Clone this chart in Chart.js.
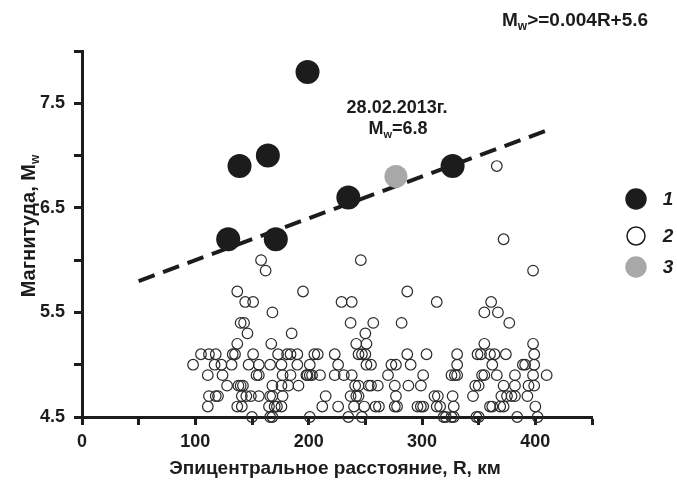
<!DOCTYPE html>
<html>
<head>
<meta charset="utf-8">
<script src="https://cdn.jsdelivr.net/npm/chart.js@4.4.1/dist/chart.umd.min.js"></script>
<style>
  html, body { margin: 0; padding: 0; background: #fff; }
  #wrap { width: 677px; height: 482px; }
</style>
</head>
<body>
<div id="wrap"><canvas id="chart"></canvas></div>
<script>
// strongest events (group 1): distance R, magnitude Mw
const strongR = [129, 139, 164, 171, 199, 235, 327];
const strongM = [6.2, 6.9, 7.0, 6.2, 7.8, 6.6, 6.9];

// event of 28.02.2013 (group 3)
const markedR = [277];
const markedM = [6.8];

// other events (group 2), distances grouped by magnitude
const weakLevels = [6.9, 6.2, 6.0, 5.9, 5.7, 5.6, 5.5, 5.4, 5.3, 5.2, 5.1, 5.0, 4.9, 4.8, 4.7, 4.6, 4.5];
const weakR = [
  [366],
  [372],
  [158, 246],
  [162, 398],
  [137, 195, 287],
  [144, 151, 229, 238, 313, 361],
  [168, 355, 367],
  [140, 143, 237, 257, 282, 377],
  [146, 185, 250],
  [137, 167, 242, 251, 355, 398],
  [105, 112, 118, 133, 135, 151, 173, 181, 184, 190, 205, 208, 223, 244, 247, 250, 287, 304, 331, 349, 352, 360, 364, 374, 399],
  [98, 117, 123, 132, 147, 156, 166, 176, 190, 201, 226, 251, 255, 273, 277, 290, 331, 362, 389, 391, 399],
  [111, 124, 154, 156, 177, 184, 198, 199, 201, 203, 210, 223, 231, 238, 270, 301, 326, 329, 331, 353, 355, 366, 382, 398, 410],
  [128, 138, 140, 142, 168, 176, 182, 191, 241, 244, 253, 255, 261, 276, 288, 299, 347, 350, 372, 382, 394, 399],
  [112, 118, 120, 141, 145, 149, 156, 166, 168, 177, 215, 237, 242, 244, 277, 311, 314, 327, 345, 370, 375, 379, 382, 393],
  [111, 137, 141, 165, 170, 172, 176, 212, 226, 240, 249, 259, 262, 276, 278, 296, 299, 301, 313, 316, 328, 360, 362, 369, 372, 400],
  [150, 166, 168, 201, 235, 247, 319, 321, 326, 328, 348, 350, 384, 402]
];

// threshold line Mw = 0.004R + 5.6
const lineR = [50, 410];
const lineM = lineR.map(r => 0.004 * r + 5.6);

const yTicks = [4.5, 5.5, 6.5, 7.5];
const xTicks = [0, 100, 200, 300, 400];

const FONT = '"Liberation Sans", Arial, sans-serif';
const INK = '#1c1c1c';

const toPoints = (xs, ys) => xs.map((x, i) => ({ x: x, y: ys[i] }));

const weakPoints = [];
weakLevels.forEach((m, i) => {
  weakR[i].forEach(r => weakPoints.push({ x: r, y: m }));
});

// text with a subscript "w" after the leading "M"
function textWithSub(ctx, parts, x, y, size, align) {
  const big = 'bold ' + size + 'px ' + FONT;
  const small = 'bold ' + Math.round(size * 0.62) + 'px ' + FONT;
  let w = 0;
  parts.forEach(p => {
    ctx.font = p.sub ? small : big;
    w += ctx.measureText(p.t).width;
  });
  let cx = align === 'center' ? x - w / 2 : x;
  ctx.textAlign = 'left';
  ctx.textBaseline = 'alphabetic';
  parts.forEach(p => {
    ctx.font = p.sub ? small : big;
    ctx.fillText(p.t, cx, p.sub ? y + size * 0.22 : y);
    cx += ctx.measureText(p.t).width;
  });
}

const labelsPlugin = {
  id: 'labels',
  afterDraw(chart) {
    const ctx = chart.ctx;
    ctx.save();
    ctx.fillStyle = INK;

    // formula in the top right corner
    textWithSub(ctx, [{ t: 'M' }, { t: 'w', sub: true }, { t: '>=0.004R+5.6' }], 502, 26, 19, 'left');

    // caption of the 2013 event
    ctx.font = 'bold 18px ' + FONT;
    ctx.textAlign = 'center';
    ctx.fillText('28.02.2013г.', 397, 113);
    textWithSub(ctx, [{ t: 'M' }, { t: 'w', sub: true }, { t: '=6.8' }], 398, 134, 18, 'center');

    // axis titles
    ctx.font = 'bold 19px ' + FONT;
    ctx.textAlign = 'center';
    ctx.textBaseline = 'alphabetic';
    ctx.fillText('Эпицентральное расстояние, R, км', 335, 474);

    ctx.save();
    ctx.translate(35, 226);
    ctx.rotate(-Math.PI / 2);
    textWithSub(ctx, [{ t: 'Магнитуда, M' }, { t: 'w', sub: true }], 0, 0, 20, 'center');
    ctx.restore();

    // legend
    const rows = [
      { y: 199, fill: INK, stroke: INK, r: 10 },
      { y: 236, fill: '#fff', stroke: INK, r: 9 },
      { y: 267, fill: '#a8a8a8', stroke: '#a8a8a8', r: 10 }
    ];
    rows.forEach((row, i) => {
      ctx.beginPath();
      ctx.arc(636, row.y, row.r, 0, Math.PI * 2);
      ctx.fillStyle = row.fill;
      ctx.fill();
      ctx.lineWidth = 1.5;
      ctx.strokeStyle = row.stroke;
      ctx.stroke();
      ctx.fillStyle = INK;
      ctx.font = 'italic bold 19px ' + FONT;
      ctx.textAlign = 'center';
      ctx.textBaseline = 'middle';
      ctx.fillText(String(i + 1), 668, row.y + 1);
    });
    ctx.restore();
  }
};

new Chart(document.getElementById('chart'), {
  type: 'scatter',
  data: {
    datasets: [
      {
        label: '1',
        data: toPoints(strongR, strongM),
        pointRadius: 12,
        pointHoverRadius: 12,
        backgroundColor: INK,
        borderColor: INK,
        borderWidth: 0,
        order: 0,
        clip: false
      },
      {
        label: '3',
        data: toPoints(markedR, markedM),
        pointRadius: 11.5,
        pointHoverRadius: 11.5,
        backgroundColor: '#a8a8a8',
        borderColor: '#a8a8a8',
        borderWidth: 0,
        order: 1,
        clip: false
      },
      {
        type: 'line',
        label: 'threshold',
        data: toPoints(lineR, lineM),
        borderColor: INK,
        borderWidth: 4,
        borderDash: [17, 9],
        pointRadius: 0,
        fill: false,
        order: 2,
        clip: false
      },
      {
        label: '2',
        data: weakPoints,
        pointRadius: 5.3,
        pointHoverRadius: 5.3,
        backgroundColor: 'rgba(0,0,0,0)',
        borderColor: '#2a2a2a',
        borderWidth: 1.2,
        order: 3,
        clip: false
      }
    ]
  },
  options: {
    responsive: true,
    maintainAspectRatio: false,
    animation: false,
    layout: { padding: { left: 0, top: 51, right: 85, bottom: 0 } },
    plugins: {
      legend: { display: false },
      tooltip: { enabled: false }
    },
    scales: {
      x: {
        type: 'linear',
        min: 0,
        max: 450,
        afterFit: scale => { scale.height = 65; },
        border: { display: true, width: 3, color: INK },
        grid: { drawOnChartArea: false, drawTicks: true, tickLength: 8, tickWidth: 3, tickColor: INK },
        ticks: {
          stepSize: 50,
          padding: 6,
          color: INK,
          font: { family: FONT, size: 18, weight: 'bold' },
          maxRotation: 0,
          autoSkip: false,
          callback: v => (xTicks.includes(v) ? String(v) : '')
        }
      },
      y: {
        type: 'linear',
        min: 4.5,
        max: 8,
        afterFit: scale => { scale.width = 82; },
        border: { display: true, width: 3, color: INK },
        grid: { drawOnChartArea: false, drawTicks: true, tickLength: 8, tickWidth: 3, tickColor: INK },
        ticks: {
          stepSize: 0.5,
          padding: 9,
          color: INK,
          font: { family: FONT, size: 18, weight: 'bold' },
          autoSkip: false,
          callback: v => (yTicks.includes(v) ? v.toFixed(1) : '')
        }
      }
    }
  },
  plugins: [labelsPlugin]
});
</script>
</body>
</html>
